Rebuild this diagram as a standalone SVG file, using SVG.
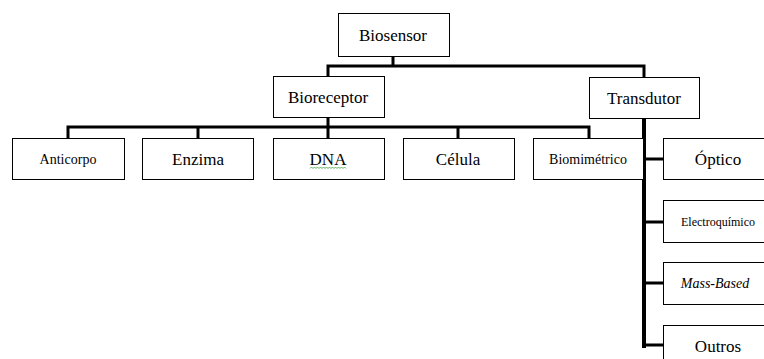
<svg xmlns="http://www.w3.org/2000/svg" width="764" height="359" viewBox="0 0 764 359" font-family="Liberation Serif, Times New Roman, DejaVu Serif, serif">
<style>
text{font-size:17px;fill:#000;text-anchor:middle;dominant-baseline:central}
.box{fill:#fff;stroke:#000;stroke-width:1}
.s{font-size:14px}
.xs{font-size:12px}
.i{font-style:italic}
.c{fill:none;stroke:#000;stroke-width:3;stroke-linecap:square}
</style>
<rect width="764" height="359" fill="#fff"/>
<g id="connectors">
<path class="c" d="M393,56 V66 M328,66 H644 M328,66 V76 M644,66 V77"/>
<path class="c" d="M328,117 V127 M68,127 H589 M68,127 V138 M198,127 V138 M328,127 V138 M458,127 V138 M589,127 V138"/>
<path class="c" style="stroke-width:4" d="M644,118 V346"/>
<path class="c" d="M644,159 H663 M644,222 H663 M644,283 H663 M644,345 H663"/>
</g>
<g id="biosensor"><rect class="box" x="338.5" y="13.5" width="111" height="43"/><text x="393" y="35" font-family="Liberation Serif, serif">Biosensor</text></g>
<g id="bioreceptor"><rect class="box" x="273.5" y="76.5" width="111" height="41"/><text x="328" y="97" font-family="Liberation Serif, serif">Bioreceptor</text></g>
<g id="transdutor"><rect class="box" x="589.5" y="77.5" width="110" height="41"/><text x="644" y="98" font-family="Liberation Serif, serif">Transdutor</text></g>
<g id="anticorpo"><rect class="box" x="12.5" y="138.5" width="112" height="41"/><text class="s" x="68" y="159" font-family="Liberation Serif, serif">Anticorpo</text></g>
<g id="enzima"><rect class="box" x="142.5" y="138.5" width="111" height="41"/><text x="198" y="159" font-family="Liberation Serif, serif">Enzima</text></g>
<g id="dna"><rect class="box" x="273.5" y="138.5" width="111" height="41"/><text x="328" y="159" font-family="Liberation Serif, serif">DNA</text><path d="M310,168.5 l1.5,-1.5 1.5,1.5 1.5,-1.5 1.5,1.5 1.5,-1.5 1.5,1.5 1.5,-1.5 1.5,1.5 1.5,-1.5 1.5,1.5 1.5,-1.5 1.5,1.5 1.5,-1.5 1.5,1.5 1.5,-1.5 1.5,1.5 1.5,-1.5 1.5,1.5 1.5,-1.5 1.5,1.5 1.5,-1.5 1.5,1.5 1.5,-1.5 1.5,1.5" fill="none" stroke="#3a9a3a" stroke-width="0.8"/></g>
<g id="celula"><rect class="box" x="403.5" y="138.5" width="111" height="41"/><text x="458" y="159" font-family="Liberation Serif, serif">Célula</text></g>
<g id="biomimetrico"><rect class="box" x="533.5" y="138.5" width="110" height="41"/><text class="s" x="588" y="159" font-family="Liberation Serif, serif">Biomimétrico</text></g>
<g id="optico"><rect class="box" x="663.5" y="138.5" width="110" height="41"/><text x="718" y="159" font-family="Liberation Serif, serif">Óptico</text></g>
<g id="electroquimico"><rect class="box" x="663.5" y="200.5" width="110" height="42"/><text class="xs" x="718" y="222" font-family="Liberation Serif, serif">Electroquímico</text></g>
<g id="mass-based"><rect class="box" x="663.5" y="262.5" width="110" height="42"/><text class="s i" x="715" y="283" font-family="Liberation Serif, serif">Mass-Based</text></g>
<g id="outros"><rect class="box" x="663.5" y="325.5" width="110" height="42"/><text x="718" y="346" font-family="Liberation Serif, serif">Outros</text></g>
</svg>
